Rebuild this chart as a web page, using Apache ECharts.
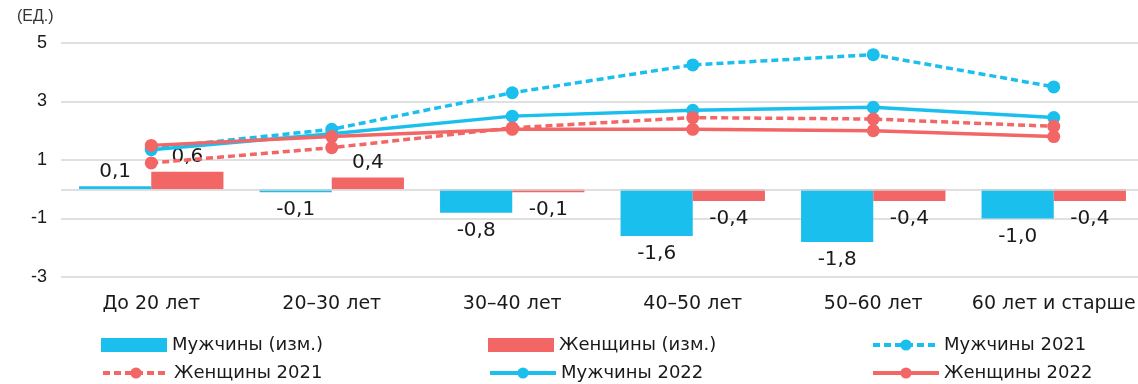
<!DOCTYPE html>
<html>
<head>
<meta charset="utf-8">
<script src="https://cdn.jsdelivr.net/npm/echarts@6/dist/echarts.min.js"></script>
<style>
  html, body { margin: 0; padding: 0; background: #fff; }
  #chart { width: 1138px; height: 384px; }
</style>
</head>
<body>
<div id="chart"></div>
<script>
// Age groups
const categories = ['До 20 лет', '20–30 лет', '30–40 лет', '40–50 лет', '50–60 лет', '60 лет и старше'];

// Change between years (bars)
const menChange = [0.1, -0.1, -0.8, -1.6, -1.8, -1.0];
const womenChange = [0.6, 0.4, -0.1, -0.4, -0.4, -0.4];

// Index levels (lines)
const men2021 = [1.4, 2.05, 3.3, 4.25, 4.6, 3.5];
const men2022 = [1.35, 1.9, 2.5, 2.7, 2.8, 2.45];
const women2021 = [0.9, 1.42, 2.1, 2.45, 2.4, 2.15];
const women2022 = [1.5, 1.8, 2.05, 2.05, 2.0, 1.8];

// Legend placement: [name, left, top, isBar]
const legendItems = [
  ['Мужчины (изм.)', 96, 330, true],
  ['Женщины (изм.)', 483, 330, true],
  ['Мужчины 2021', 866, 330, false],
  ['Женщины 2021', 96, 358, false],
  ['Мужчины 2022', 483, 358, false],
  ['Женщины 2022', 866, 358, false]
];

const BLUE = '#1bbfee';
const RED = '#f26666';
const FONT = "'DejaVu Sans', sans-serif";

const fmt = v => v.toFixed(1).replace('.', ',');

function barData(values) {
  return values.map(v => ({
    value: v,
    label: {
      position: v >= 0 ? 'top' : 'bottom',
      distance: v >= 0 ? 5 : 8
    }
  }));
}

function lineSeries(name, data, color, dashed) {
  return {
    name: name,
    type: 'line',
    data: data,
    symbol: 'circle',
    symbolSize: 13,
    z: 5,
    itemStyle: { color: color },
    lineStyle: { color: color, width: 3.5, type: dashed ? [7, 4] : 'solid' }
  };
}

const barLabel = {
  show: true,
  fontFamily: FONT,
  fontSize: 20,
  color: '#1a1a1a',
  formatter: p => fmt(p.value)
};

const chart = echarts.init(document.getElementById('chart'), null, { renderer: 'canvas' });

chart.setOption({
  animation: false,
  backgroundColor: '#fff',
  grid: { left: 61, top: 43, right: -6, bottom: 107, containLabel: false, outerBoundsMode: 'none' },
  graphic: [{
    type: 'text',
    left: 17,
    top: 9,
    style: { text: '(ЕД.)', fontFamily: "'Liberation Sans Narrow', 'Liberation Sans', sans-serif", fontSize: 16, fill: '#333' }
  }],
  legend: legendItems.map(([name, left, top, isBar]) => Object.assign({
    left: left,
    top: top,
    data: [name],
    itemWidth: 66,
    itemHeight: 14,
    itemGap: 0,
    textStyle: { fontFamily: FONT, fontSize: 18, color: '#1a1a1a', lineHeight: 20 }
  }, isBar ? { icon: 'rect' } : { lineStyle: { width: 4 } })),
  xAxis: {
    type: 'category',
    data: categories,
    boundaryGap: true,
    axisLine: { show: false },
    axisTick: { show: false },
    axisLabel: { margin: 18, fontFamily: FONT, fontSize: 19, color: '#1a1a1a', interval: 0, hideOverlap: false }
  },
  yAxis: {
    type: 'value',
    min: -3,
    max: 5,
    interval: 2,
    axisLine: { show: false },
    axisTick: { show: false },
    axisLabel: { margin: 14, fontFamily: "'Liberation Sans', Arial, sans-serif", fontSize: 18, color: '#1a1a1a' },
    splitLine: { lineStyle: { color: '#d6d6d6', width: 1.5 } }
  },
  series: [
    {
      name: 'Мужчины (изм.)',
      type: 'bar',
      data: barData(menChange),
      barGap: '0%',
      barCategoryGap: '20%',
      itemStyle: { color: BLUE },
      label: barLabel,
      markLine: {
        silent: true,
        symbol: 'none',
        label: { show: false },
        lineStyle: { color: '#d6d6d6', width: 1.5, type: 'solid' },
        data: [{ yAxis: 0 }]
      }
    },
    {
      name: 'Женщины (изм.)',
      type: 'bar',
      data: barData(womenChange),
      itemStyle: { color: RED },
      label: barLabel
    },
    lineSeries('Мужчины 2021', men2021, BLUE, true),
    lineSeries('Мужчины 2022', men2022, BLUE, false),
    lineSeries('Женщины 2021', women2021, RED, true),
    lineSeries('Женщины 2022', women2022, RED, false)
  ]
});
</script>
</body>
</html>
